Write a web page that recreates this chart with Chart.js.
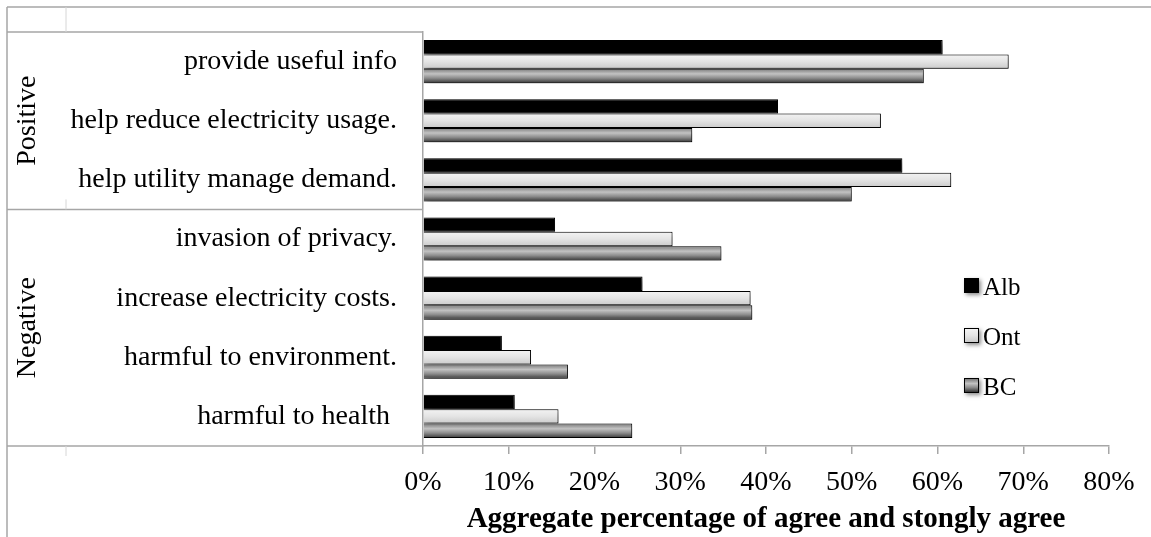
<!DOCTYPE html>
<html>
<head>
<meta charset="utf-8">
<script src="https://cdn.jsdelivr.net/npm/chart.js@4.4.1/dist/chart.umd.min.js"></script>
<style>
  html, body { margin: 0; padding: 0; background: #fff; }
  #wrap { width: 1151px; height: 537px; position: relative; }
</style>
</head>
<body>
<div id="wrap"><canvas id="c"></canvas></div>
<script>
// Survey items, top to bottom
const categories = [
  'provide useful info',
  'help reduce electricity usage.',
  'help utility manage demand.',
  'invasion of privacy.',
  'increase electricity costs.',
  'harmful to environment.',
  'harmful to health '
];
// Outer category level: names and how many items each spans
const groupNames = ['Positive', 'Negative'];
const groupSizes = [3, 4];

// Share (%) answering agree or strongly agree, by province
const seriesNames = ['Alb', 'Ont', 'BC'];
const albValues = [60.6, 41.4, 55.9, 15.4, 25.6, 9.2, 10.7];
const ontValues = [68.3, 53.4, 61.6, 29.1, 38.2, 12.6, 15.8];
const bcValues  = [58.4, 31.4, 50.0, 34.8, 38.4, 16.9, 24.4];

const xTickValues = [0, 10, 20, 30, 40, 50, 60, 70, 80];
const xAxisTitle = 'Aggregate percentage of agree and stongly agree';

// Vertical gradient stops per series (Excel-like bevel look)
const seriesFills = [
  [[0, '#000000'], [1, '#000000']],
  [[0, '#f3f3f3'], [0.5, '#e4e4e4'], [1, '#cbcbcb']],
  [[0, '#7a7a7a'], [0.35, '#c2c2c2'], [0.65, '#8c8c8c'], [1, '#363636']]
];

const FONT = '"Liberation Serif", "Times New Roman", serif';
const LINE = '#a6a6a6';
Chart.defaults.font.family = FONT;
Chart.defaults.color = '#000';

function makeGradient(ctx, top, bottom, stops) {
  const g = ctx.createLinearGradient(0, top, 0, bottom);
  stops.forEach(([o, c]) => g.addColorStop(o, c));
  return g;
}

// Gradient fills sized to each bar, plus a soft drop shadow under the bars
const barStyle = {
  id: 'barStyle',
  beforeDatasetsDraw(chart) {
    const ctx = chart.ctx;
    chart.data.datasets.forEach((ds, di) => {
      const meta = chart.getDatasetMeta(di);
      meta.data.forEach(el => {
        const top = el.y - el.height / 2;
        const bottom = el.y + el.height / 2;
        el.options = Object.assign({}, el.options, {
          backgroundColor: makeGradient(ctx, top, bottom, seriesFills[di])
        });
      });
    });
    ctx.save();
    ctx.shadowColor = 'rgba(0,0,0,0.45)';
    ctx.shadowBlur = 6;
    ctx.shadowOffsetX = 2;
    ctx.shadowOffsetY = 3;
  },
  afterDatasetsDraw(chart) {
    chart.ctx.restore();
  }
};

// Two-level category frame: outer border, group separators and rotated group names
const groupFrame = {
  id: 'groupFrame',
  afterDraw(chart, args, opts) {
    const ctx = chart.ctx;
    const ca = chart.chartArea;
    const ys = chart.scales.y;
    const W = chart.width, H = chart.height;
    ctx.save();
    ctx.strokeStyle = LINE;
    ctx.lineWidth = 1.5;
    const seg = (x1, y1, x2, y2) => { ctx.beginPath(); ctx.moveTo(x1, y1); ctx.lineTo(x2, y2); ctx.stroke(); };
    seg(opts.frameX, opts.frameY, W, opts.frameY);
    seg(opts.frameX, opts.frameY, opts.frameX, H);

    const bounds = [ys.getPixelForValue(-0.5)];
    let idx = 0;
    groupSizes.forEach(n => { idx += n; bounds.push(ys.getPixelForValue(idx - 0.5)); });
    bounds.forEach(b => seg(opts.frameX, b, ca.left, b));

    // faint level dividers
    ctx.strokeStyle = '#d6d6d6';
    ctx.lineWidth = 1;
    seg(opts.levelX, opts.frameY, opts.levelX, bounds[0]);
    for (let i = 1; i < bounds.length - 1; i++) seg(opts.levelX, bounds[i] - 10, opts.levelX, bounds[i]);
    seg(opts.levelX, bounds[bounds.length - 1], opts.levelX, bounds[bounds.length - 1] + 10);

    ctx.fillStyle = '#000';
    ctx.font = '28px ' + FONT;
    ctx.textAlign = 'center';
    ctx.textBaseline = 'middle';
    groupNames.forEach((name, i) => {
      const cy = (bounds[i] + bounds[i + 1]) / 2;
      ctx.save();
      ctx.translate(opts.labelX, cy);
      ctx.rotate(-Math.PI / 2);
      ctx.fillText(name, 0, 0);
      ctx.restore();
    });
    ctx.restore();
  }
};

// Legend placed inside the plot area
const innerLegend = {
  id: 'innerLegend',
  afterDraw(chart, args, opts) {
    const ctx = chart.ctx;
    ctx.save();
    chart.data.datasets.forEach((ds, i) => {
      const x = opts.x, y = opts.y + i * opts.gap, s = opts.box;
      ctx.save();
      ctx.shadowColor = 'rgba(0,0,0,0.45)';
      ctx.shadowBlur = 4;
      ctx.shadowOffsetX = 1.5;
      ctx.shadowOffsetY = 2;
      ctx.fillStyle = '#000';
      ctx.fillRect(x, y, s, s);
      ctx.restore();
      ctx.fillStyle = makeGradient(ctx, y + 1, y + s - 1, seriesFills[i]);
      ctx.fillRect(x + 1, y + 1, s - 2, s - 2);
      ctx.fillStyle = '#000';
      ctx.font = opts.fontSize + 'px ' + FONT;
      ctx.textAlign = 'left';
      ctx.textBaseline = 'middle';
      ctx.fillText(ds.label, x + s + 4, y + s / 2 + 3);
    });
    ctx.restore();
  }
};

const seriesValues = [albValues, ontValues, bcValues];

new Chart(document.getElementById('c'), {
  type: 'bar',
  data: {
    labels: categories,
    datasets: seriesNames.map((name, i) => ({
      label: name,
      data: seriesValues[i],
      backgroundColor: seriesFills[i][0][1],
      borderColor: '#000',
      borderWidth: 1,
      categoryPercentage: 0.73,
      barPercentage: 1.0
    }))
  },
  options: {
    indexAxis: 'y',
    responsive: true,
    maintainAspectRatio: false,
    animation: false,
    devicePixelRatio: 1,
    layout: { padding: { top: 32, right: 42, left: 0, bottom: 0 } },
    plugins: {
      legend: { display: false },
      tooltip: { enabled: false },
      groupFrame: { frameX: 7, frameY: 7, levelX: 66, labelX: 28 },
      innerLegend: { x: 964, y: 278, gap: 50, box: 15, fontSize: 25 }
    },
    scales: {
      x: {
        min: xTickValues[0],
        max: xTickValues[xTickValues.length - 1],
        afterBuildTicks: s => { s.ticks = xTickValues.map(v => ({ value: v })); },
        afterFit: s => { s.height = 91; s.paddingLeft = 0; s.paddingRight = 0; },
        grid: { display: true, drawOnChartArea: false, drawTicks: true, tickLength: 8, color: LINE, lineWidth: 1.5 },
        border: { display: true, color: LINE, width: 1.5 },
        ticks: { padding: 12, font: { size: 28 }, color: '#000', callback: v => v + '%', maxRotation: 0 },
        title: { display: true, text: xAxisTitle, font: { size: 29, weight: 'bold' }, color: '#000', padding: { top: 4, bottom: 0 } }
      },
      y: {
        afterFit: s => { s.width = 423; s.paddingTop = 0; s.paddingBottom = 0; },
        grid: { display: false, drawTicks: false },
        border: { display: true, color: LINE, width: 1.5 },
        ticks: { padding: 26, font: { size: 28 }, color: '#000' }
      }
    }
  },
  plugins: [barStyle, groupFrame, innerLegend]
});
</script>
</body>
</html>
